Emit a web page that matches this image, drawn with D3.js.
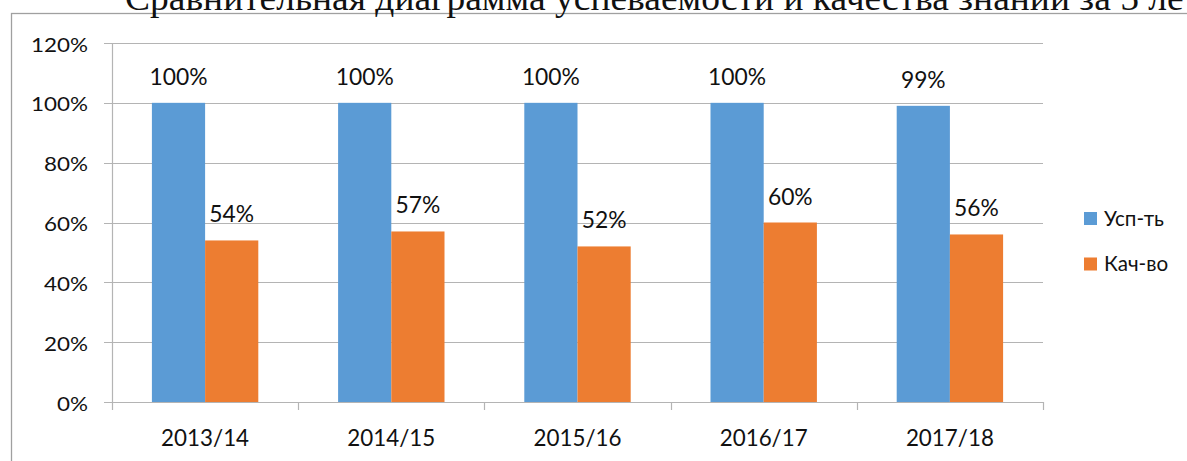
<!DOCTYPE html>
<html><head><meta charset="utf-8">
<script src="https://cdn.jsdelivr.net/npm/d3@7"></script>
<style>
html,body{margin:0;padding:0;background:#fff;}
svg{display:block;}
text{font-family:Lato, "Open Sans", sans-serif;fill:#111;}
</style></head>
<body>
<svg id="chart" width="1187" height="461"></svg>
<script>
const title = "Сравнительная диаграмма успеваемости и качества знаний за 5 лет";
const categories = ["2013/14","2014/15","2015/16","2016/17","2017/18"];
const seriesNames = ["Усп-ть","Кач-во"];
const uspValues = [1.00,1.00,1.00,1.00,0.99];
const kachValues = [0.54,0.57,0.52,0.60,0.56];
const yTicks = [0,0.2,0.4,0.6,0.8,1.0,1.2];
const colors = ["#5b9bd5","#ed7d31"];

const svg = d3.select("#chart");
const plot = {left:112, right:1043, top:43, bottom:402};

// width fitting helper
function fitWidth(sel, sampleText, target, fontSize){
  const t = svg.append("text").attr("font-size",fontSize).text(sampleText);
  const w = t.node().getComputedTextLength();
  t.remove();
  const k = target / w;
  sel.each(function(){
    const len = this.getComputedTextLength();
    d3.select(this).attr("textLength", len*k).attr("lengthAdjust","spacingAndGlyphs");
  });
}

// frame
svg.append("rect").attr("x",11.5).attr("y",13.5).attr("width",1300).attr("height",600)
  .attr("fill","none").attr("stroke","#a0a0a0").attr("stroke-width",1.3);

// title (cut off at the top, as in the reference)
svg.append("text").attr("x",125).attr("y",10).attr("font-size",35)
  .style("font-family","'Liberation Serif', 'Times New Roman', serif")
  .attr("textLength",1075).attr("lengthAdjust","spacingAndGlyphs")
  .text(title);

const y = d3.scaleLinear().domain([0,1.2]).range([plot.bottom, plot.top]);
const x0 = d3.scaleBand().domain(categories).range([plot.left, plot.right]).padding(0);
const bw = x0.bandwidth()/3.5;
const x1 = d3.scaleBand().domain(seriesNames).range([0, 2*bw]).padding(0);
const off = (x0.bandwidth() - 2*bw)/2;

// gridlines
svg.append("g").selectAll("line").data(yTicks).join("line")
  .attr("x1",104).attr("x2",plot.right)
  .attr("y1",d=>Math.round(y(d))+0.5).attr("y2",d=>Math.round(y(d))+0.5)
  .attr("stroke","#b4b4b4").attr("stroke-width",1.2);

// y axis line
svg.append("line").attr("x1",plot.left+0.5).attr("x2",plot.left+0.5)
  .attr("y1",plot.top).attr("y2",plot.bottom+8).attr("stroke","#b4b4b4").attr("stroke-width",1.2);

// category ticks
const bounds = categories.map(c=>x0(c)).concat([plot.right]);
svg.append("g").selectAll("line").data(bounds.slice(1)).join("line")
  .attr("x1",d=>Math.round(d)+0.5).attr("x2",d=>Math.round(d)+0.5)
  .attr("y1",plot.bottom).attr("y2",plot.bottom+8)
  .attr("stroke","#b4b4b4").attr("stroke-width",1.2);

// bars
const rows = categories.map((c,i)=>({cat:c, vals:[uspValues[i],kachValues[i]]}));
const gBars = svg.append("g");
rows.forEach(r=>{
  r.vals.forEach((v,j)=>{
    gBars.append("rect")
      .attr("x", x0(r.cat)+off+x1(seriesNames[j]))
      .attr("y", y(v))
      .attr("width", x1.bandwidth())
      .attr("height", y(0)-y(v))
      .attr("fill", colors[j]);
  });
});

// data labels
const labels = [];
rows.forEach(r=>r.vals.forEach((v,j)=>labels.push({cat:r.cat, s:seriesNames[j], v})));
const dl = svg.append("g").selectAll("text").data(labels).join("text")
  .attr("x", d=>x0(d.cat)+off+x1(d.s)+x1.bandwidth()/2)
  .attr("y", d=>y(d.v)-18)
  .attr("text-anchor","middle").attr("font-size",23)
  .text(d=>d3.format(".0%")(d.v));
fitWidth(dl, "100%", 58, 23);

// y tick labels
const yl = svg.append("g").selectAll("text").data(yTicks).join("text")
  .attr("x",88).attr("y",d=>y(d)+8.5).attr("text-anchor","end").attr("font-size",18.5)
  .text(d=>d3.format(".0%")(d));
fitWidth(yl, "120%", 57, 18.5);

// x labels
const xl = svg.append("g").selectAll("text").data(categories).join("text")
  .attr("x",d=>x0(d)+x0.bandwidth()/2).attr("y",446).attr("text-anchor","middle").attr("font-size",23)
  .text(d=>d);
fitWidth(xl, "2013/14", 88, 23);

// legend
const lg = svg.append("g");
seriesNames.forEach((s,i)=>{
  lg.append("rect").attr("x",1084).attr("y",212+i*45.5).attr("width",13).attr("height",13).attr("fill",colors[i]);
});
const lt = lg.selectAll("text").data(seriesNames).join("text")
  .attr("x",1104).attr("y",(d,i)=>226+i*45).attr("font-size",21).text(d=>d);
fitWidth(lt, "Усп-ть", 60, 21);
</script>
</body></html>
